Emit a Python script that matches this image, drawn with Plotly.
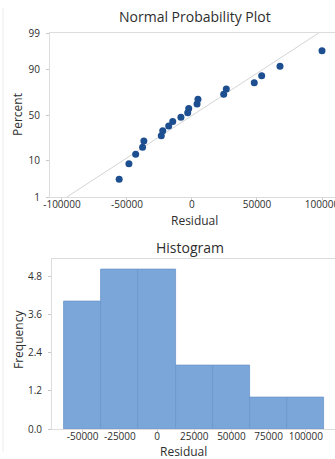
import plotly.graph_objects as go
from statistics import NormalDist, mean, stdev

# ---- data ----
residuals = [-56000, -48500, -43300, -38000, -37000, -23600, -22500, -17900, -14800, -8500,
             -3300, -2500, 3900, 4600, 24400, 26400, 47900, 53600, 67700, 100000]
percents = [3.4, 8.3, 13.2, 18.1, 23.0, 27.9, 32.8, 37.7, 42.6, 47.5,
            52.5, 57.4, 62.3, 67.2, 72.1, 77.0, 81.9, 86.8, 91.7, 96.6]
pct_ticks = [1, 10, 50, 90, 99]
res_ticks_top = [-100000, -50000, 0, 50000, 100000]
res_ticks_hist = [-50000, -25000, 0, 25000, 50000, 75000, 100000]
freq_ticks = [0.0, 1.2, 2.4, 3.6, 4.8]
bin_start, bin_end, bin_size = -62500, 112500, 25000

nd = NormalDist()
def z(p):
    return nd.inv_cdf(p / 100.0)

mu = mean(residuals)
sd = stdev(residuals)
line_p = [1, 99]
line_x = [mu + sd * z(p) for p in line_p]

W, H = 335, 459
def px(v):
    return v / W
def py(v):
    return 1 - v / H

FONT = "Open Sans"
TXT = "#2e2e2e"
GRID = "#dcdcdc"

fig = go.Figure()

fig.add_trace(go.Scatter(x=line_x, y=[z(p) for p in line_p], mode="lines",
                         line=dict(color="#d4d4d4", width=1), xaxis="x", yaxis="y",
                         showlegend=False, hoverinfo="skip"))
fig.add_trace(go.Scatter(x=residuals, y=[z(p) for p in percents], mode="markers",
                         marker=dict(color="#1d4f90", size=7), xaxis="x", yaxis="y",
                         showlegend=False))

fig.add_trace(go.Histogram(x=residuals, xbins=dict(start=bin_start, end=bin_end, size=bin_size),
                           marker=dict(color="#7ba6da", line=dict(color="#6a95ca", width=0.8)),
                           xaxis="x2", yaxis="y2", showlegend=False))

axis_common = dict(showgrid=False, zeroline=False, showline=True, linecolor=GRID, linewidth=1,
                   ticks="outside", tickcolor="#c8c8c8", automargin=False,
                   tickfont=dict(family=FONT, size=10, color=TXT))
xax = dict(axis_common, ticklen=2, mirror=True, ticklabeloverflow="allow")
yax = dict(axis_common, ticklen=3, ticklabelstandoff=4)

def ann(text, x, y, size=12, angle=0):
    return dict(text=text, x=px(x), y=py(y), xref="paper", yref="paper",
                xanchor="center", yanchor="middle", showarrow=False, textangle=angle,
                font=dict(family=FONT, size=size, color=TXT))

fig.update_layout(
    template="none",
    width=W, height=H,
    margin=dict(l=0, r=0, t=0, b=0, autoexpand=False),
    paper_bgcolor="white", plot_bgcolor="white",
    font=dict(family=FONT, color=TXT),
    bargap=0,
    xaxis=dict(xax, domain=[px(50), 1], anchor="y", ticklabelstandoff=-4,
               range=[-109200, 110000], tickvals=res_ticks_top,
               ticktext=[str(v) for v in res_ticks_top]),
    yaxis=dict(yax, domain=[py(197), py(33)], anchor="x",
               range=[z(1), z(99)], tickvals=[z(p) for p in pct_ticks],
               ticktext=[str(p) for p in pct_ticks]),
    xaxis2=dict(xax, domain=[px(52), 1], anchor="y2", ticklabelstandoff=-4,
                range=[-70600, 119600], tickvals=res_ticks_hist,
                ticktext=[str(v) for v in res_ticks_hist]),
    yaxis2=dict(yax, domain=[py(429.3), py(258.5)], anchor="x2",
                range=[0, 5.35], tickvals=freq_ticks,
                ticktext=[f"{v:.1f}" for v in freq_ticks]),
    annotations=[
        ann("Normal Probability Plot", 195, 16, size=14),
        ann("Histogram", 190, 247, size=14),
        ann("Residual", 194, 220),
        ann("Residual", 183, 451),
        ann("Percent", 18, 115, angle=-90),
        ann("Frequency", 18, 340, angle=-90),
    ],
    shapes=[
        dict(type="line", xref="paper", yref="paper", x0=px(3), x1=px(3), y0=py(8), y1=py(452),
             line=dict(color="#ececec", width=1)),
    ],
)

fig.write_html("out.html")
